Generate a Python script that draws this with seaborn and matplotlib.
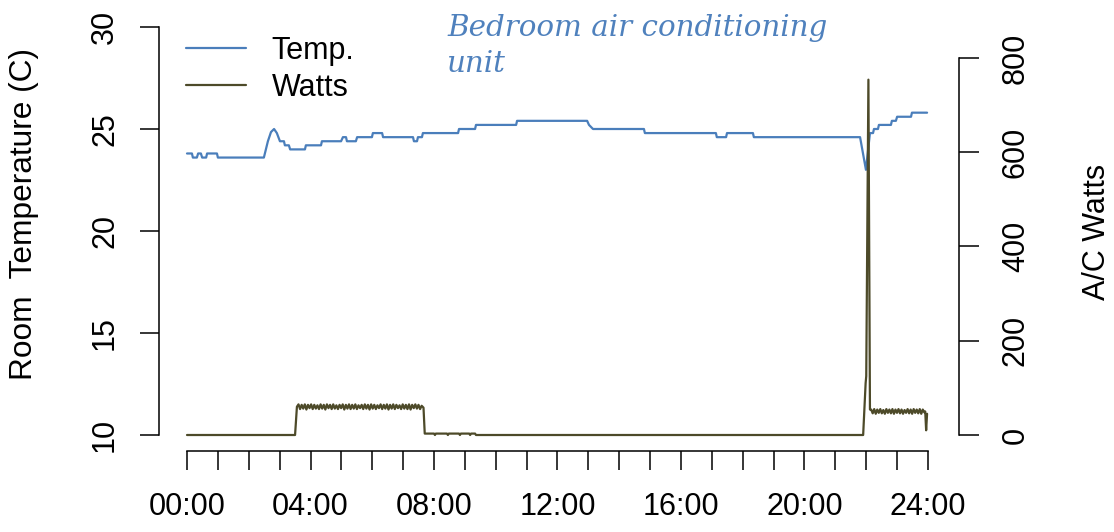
import numpy as np
import pandas as pd
import matplotlib.pyplot as plt
import seaborn as sns

# room temperature readings (hour of day, deg C)
temp_hours = [0.00, 0.16, 0.19, 0.32, 0.36, 0.45, 0.49, 0.62, 0.65, 0.97, 1.00, 2.49,
              2.62, 2.72, 2.82, 2.91, 3.01, 3.14, 3.17, 3.30, 3.34, 3.82, 3.85, 4.34,
              4.37, 4.99, 5.05, 5.15, 5.18, 5.47, 5.51, 5.99, 6.02, 6.32, 6.35, 7.32,
              7.35, 7.45, 7.48, 7.61, 7.64, 8.78, 8.81, 9.33, 9.36, 10.66, 10.69, 12.96,
              13.02, 13.15, 14.80, 14.83, 17.13, 17.16, 17.46, 17.49, 18.33, 18.36, 21.80,
              21.99, 22.12, 22.22, 22.25, 22.38, 22.41, 22.80, 22.83, 22.96, 23.00, 23.45,
              23.48, 23.97]
temp_values = [23.8, 23.8, 23.6, 23.6, 23.8, 23.8, 23.6, 23.6, 23.8, 23.8, 23.6, 23.6,
               24.4, 24.85, 25.0, 24.8, 24.4, 24.4, 24.2, 24.2, 24.0, 24.0, 24.2, 24.2,
               24.4, 24.4, 24.6, 24.6, 24.4, 24.4, 24.6, 24.6, 24.8, 24.8, 24.6, 24.6,
               24.4, 24.4, 24.6, 24.6, 24.8, 24.8, 25.0, 25.0, 25.2, 25.2, 25.4, 25.4,
               25.2, 25.0, 25.0, 24.8, 24.8, 24.6, 24.6, 24.8, 24.8, 24.6, 24.6,
               23.0, 24.8, 24.8, 25.0, 25.0, 25.2, 25.2, 25.4, 25.4, 25.6, 25.6,
               25.8, 25.8]

# A/C power readings (W)
watts_morning = [60, 65, 55, 64, 56, 65, 54, 64, 57, 65, 55, 64, 56, 63, 55, 65, 56, 64, 54, 65,
                 57, 64, 55, 65, 56, 63, 55, 64, 57, 65, 54, 64, 56, 65, 55, 64, 56, 65, 55, 63,
                 57, 64, 55, 65, 56, 64, 54, 65, 56, 64, 55, 63, 57, 65, 55, 64, 56, 65, 54, 64,
                 56, 65, 55, 64, 57, 63, 55, 65, 56, 64, 55, 65, 54, 64, 57, 65, 56, 64, 55, 62]
watts_night = [54, 46, 55, 45, 54, 47, 55, 46, 53, 45, 55, 47, 54, 46, 55, 45, 54, 47,
               55, 46, 54, 45, 53, 47, 55, 46, 54, 45, 55, 47, 54, 46, 55, 45, 54, 48]
watts_hours_start = [0.00, 3.50]
watts_start = [0, 0]
watts_hours_mid = [7.66, 7.70, 8.00, 8.03, 8.06, 8.42, 8.45, 8.48, 8.81, 8.84, 8.87,
                   9.14, 9.17, 9.20, 9.33, 9.36, 21.90, 21.98, 22.00, 22.07, 22.12]
watts_mid = [58, 3, 3, 0, 3, 3, 0, 3, 3, 0, 3, 3, 0, 3, 3, 0, 0, 110, 125, 754, 54]
watts_hours_end = [23.91, 23.94, 23.97]
watts_end = [50, 10, 45]

xtick_hours = list(range(25))
xtick_labels = [f"{h:02d}:00" if h % 4 == 0 else "" for h in xtick_hours]
temp_ticks = [10, 15, 20, 25, 30]
watt_ticks = [0, 200, 400, 600, 800]

temp_color = "#4a7ebb"
watt_color = "#4d4a29"

hours_w = (watts_hours_start
           + list(np.linspace(3.56, 7.60, len(watts_morning)))
           + watts_hours_mid
           + list(np.linspace(22.16, 23.88, len(watts_night)))
           + watts_hours_end)
vals_w = watts_start + watts_morning + watts_mid + watts_night + watts_end

df_t = pd.DataFrame({"hour": temp_hours, "temp": temp_values})
df_w = pd.DataFrame({"hour": hours_w, "watts": vals_w})

sns.set_style("white")
plt.rcParams["font.family"] = ["Liberation Sans", "DejaVu Sans"]
plt.rcParams.update({"text.color": "black", "axes.labelcolor": "black",
                     "xtick.color": "black", "ytick.color": "black"})

W, H = 1114, 532
fig = plt.figure(figsize=(W / 100, H / 100), dpi=100)
ax = fig.add_axes([159 / W, (H - 451) / H, (958.5 - 159) / W, 440 / H])
ax2 = ax.twinx()

sns.lineplot(data=df_t, x="hour", y="temp", ax=ax, color=temp_color, lw=1.6,
             estimator=None, sort=False, label="Temp.", legend=False)
sns.lineplot(data=df_w, x="hour", y="watts", ax=ax2, color=watt_color, lw=1.6,
             estimator=None, sort=False, label="Watts", legend=False)

ax.set_xlim(-0.907, 24.988)
ax.set_ylim(9.216, 30.784)
ax2.set_ylim(-33.95, 899.7)

ax.set_xticks(xtick_hours)
ax.set_xticklabels(xtick_labels)
ax.set_yticks(temp_ticks)
ax.set_yticklabels([str(t) for t in temp_ticks], rotation=90, va="center")
ax2.set_yticks(watt_ticks)
ax2.set_yticklabels([str(t) for t in watt_ticks], rotation=90, va="center")
ax.set_xlabel("")
ax.set_ylabel("")
ax2.set_ylabel("")

for a in (ax, ax2):
    for s in a.spines.values():
        s.set_visible(False)
        s.set_linewidth(1.1)
        s.set_color("black")
ax.spines["left"].set_visible(True)
ax.spines["left"].set_bounds(10, 30)
ax.spines["bottom"].set_visible(True)
ax.spines["bottom"].set_bounds(0, 24)
ax2.spines["right"].set_visible(True)
ax2.spines["right"].set_bounds(0, 800)

ax.tick_params(axis="x", direction="out", length=13.5, width=1.1, pad=16, labelsize=22,
               bottom=True, colors="black")
ax.tick_params(axis="y", direction="out", length=13.5, width=1.1, pad=14.5, labelsize=22,
               left=True, colors="black")
ax2.tick_params(axis="y", direction="out", length=14.5, width=1.1, pad=16, labelsize=22,
                right=True, colors="black")
ax.grid(False)
ax2.grid(False)

fig.text(24 / W, 1 - 214 / H, "Room  Temperature (C)", rotation=90, ha="center",
         va="center", fontsize=22.8, color="black")
fig.text(1097 / W, 1 - 232 / H, "A/C Watts", rotation=90, ha="center", va="center",
         fontsize=22, color="black")

handles = ax.get_lines()[:1] + ax2.get_lines()[:1]
fig.legend(handles, ["Temp.", "Watts"], loc="upper left",
           bbox_to_anchor=(186 / W, 1 - 36 / H), frameon=False, fontsize=22,
           borderpad=0, borderaxespad=0, handlelength=1.96, handletextpad=0.85,
           labelspacing=0.23, labelcolor="black")

fig.text(447 / W, 1 - 14 / H, "Bedroom air conditioning\nunit", ha="left", va="top",
         fontsize=21.2, color="#4f81bd", style="italic", family="DejaVu Serif",
         linespacing=1.35)

fig.savefig("out.png", dpi=100)
